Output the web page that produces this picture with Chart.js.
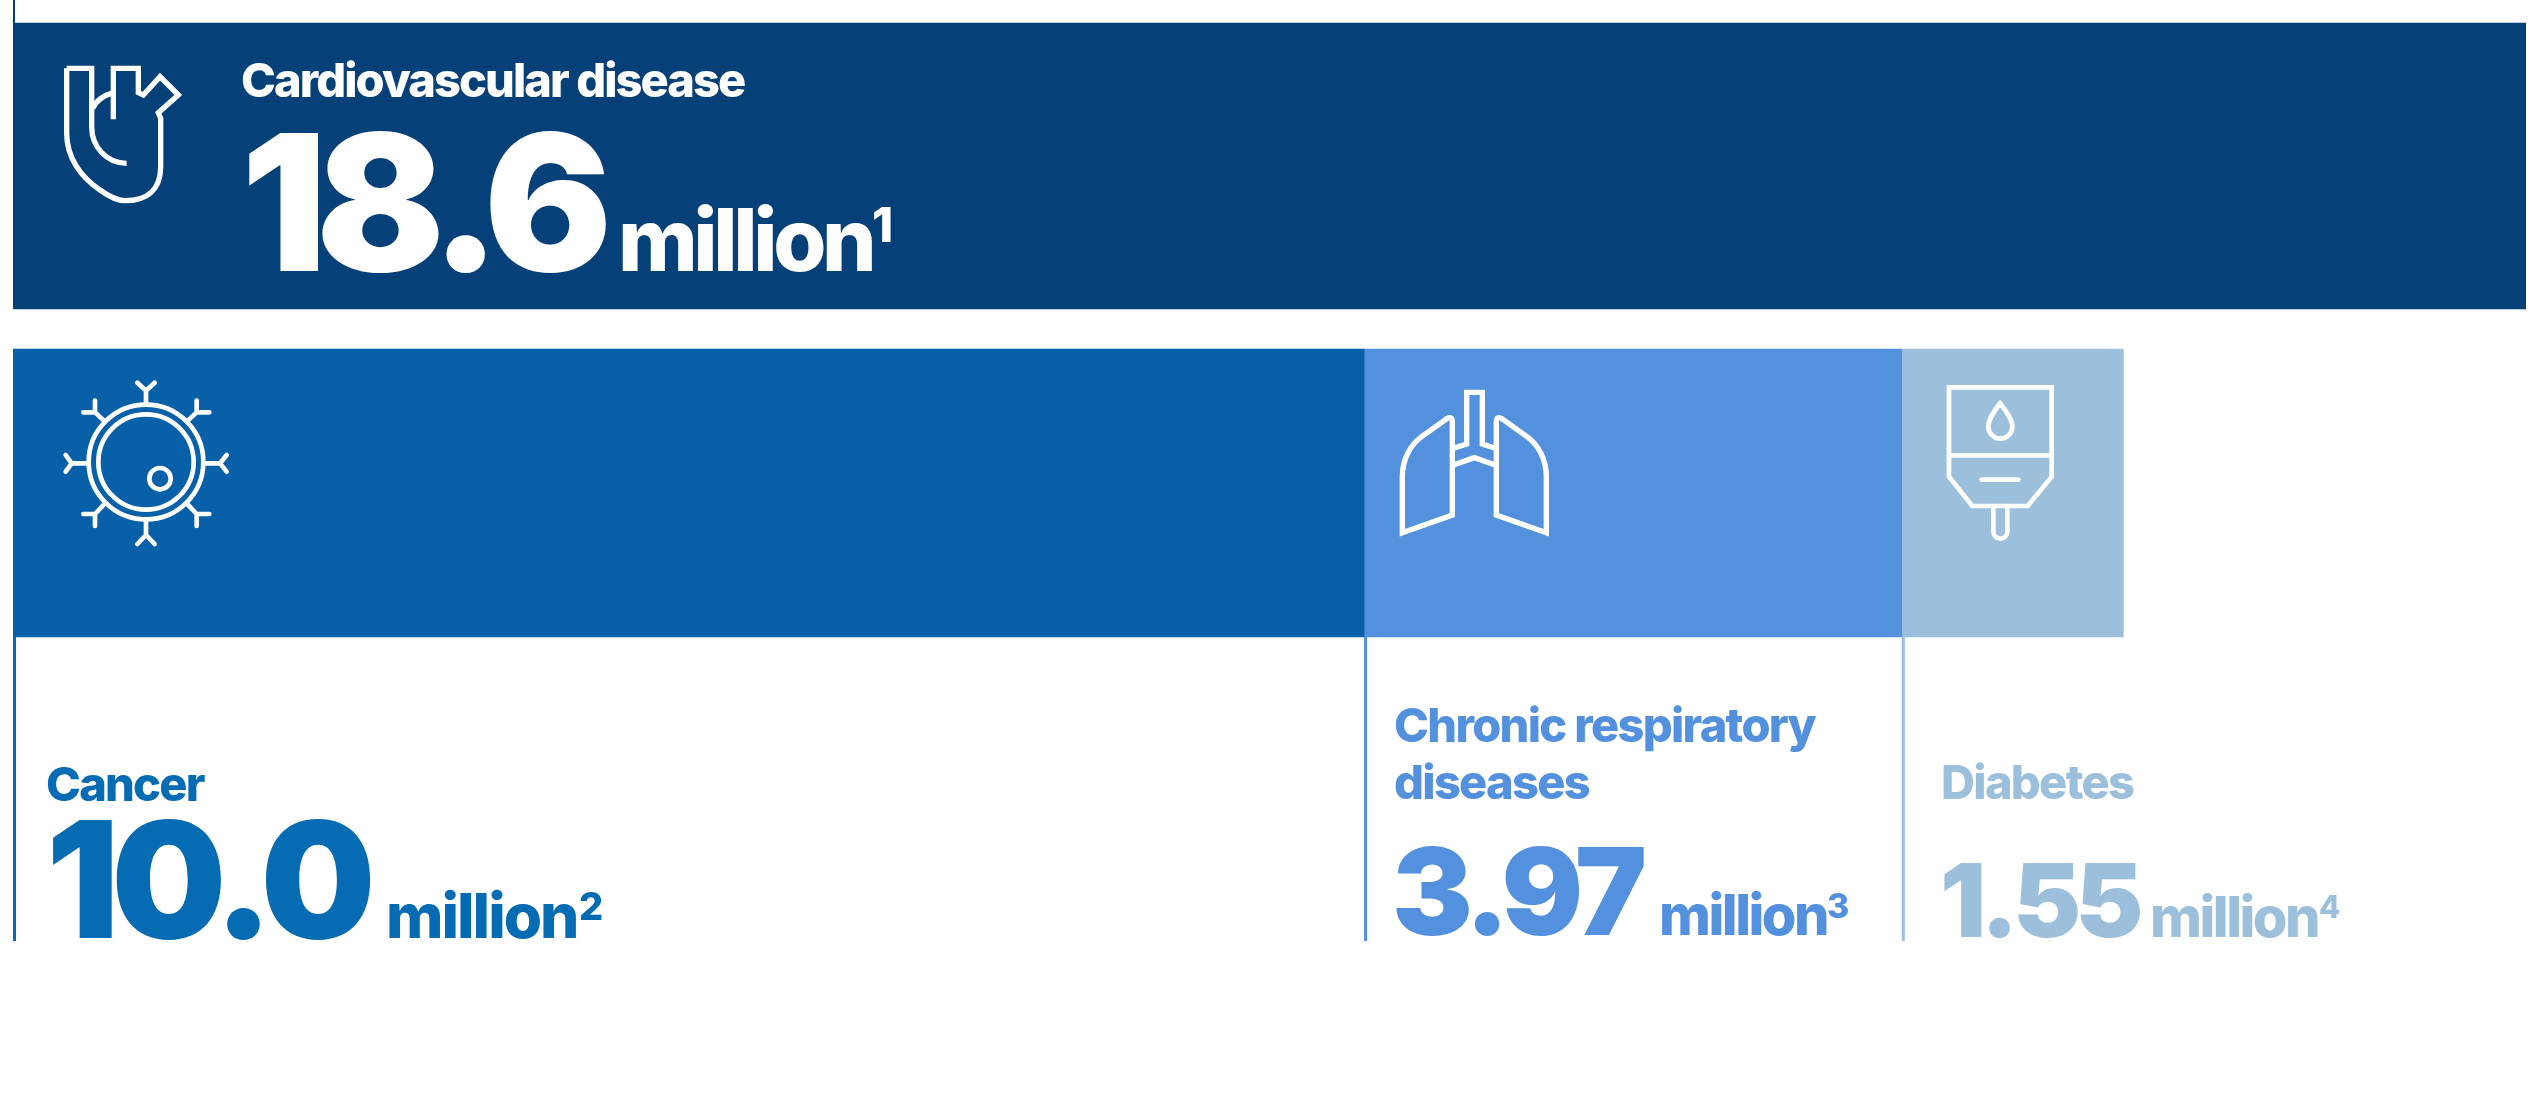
<!DOCTYPE html>
<html>
<head>
<meta charset="utf-8">
<title>Deaths by disease</title>
<script src="https://cdn.jsdelivr.net/npm/chart.js@4"></script>
<style>
  html, body { margin: 0; background: #fff; }
  canvas { display: block; }
</style>
</head>
<body>
<canvas id="chart" width="2536" height="1099"></canvas>
<script>
const rows = ['Cardiovascular disease', 'Other diseases'];

// bar lengths as drawn in the picture, million deaths
const cardiovascular = [18.6, null];
const cancer = [null, 10.0];
const respiratory = [null, 3.98];
const diabetes = [null, 1.64];

// printed figures, the last two bars are drawn a little longer than these say
const valueLabels = ['18.6', '10.0', '3.97', '1.55'];
const unitLabel = 'million';
const noteLabels = ['1', '2', '3', '4'];

const barColors = ['#064078', '#0860a8', '#5390dd', '#9cbfdc'];
const textColors = ['#ffffff', '#056bb3', '#5390dd', '#9cbfdc'];

const FONT = 'Inter';

function drawText(ctx, text, x, y, weight, size, spacing, color) {
  ctx.font = weight + ' ' + size + 'px ' + FONT;
  ctx.letterSpacing = spacing + 'px';
  ctx.fillStyle = color;
  ctx.fillText(text, x, y);
  ctx.letterSpacing = '0px';
}

// icon paths are in zoomed crop units, 3 units to a pixel
function drawIcon(ctx, x, y, width, paths, cap) {
  ctx.save();
  ctx.translate(x, y);
  ctx.scale(1 / 3, 1 / 3);
  ctx.strokeStyle = '#ffffff';
  ctx.lineWidth = width;
  ctx.lineCap = cap;
  ctx.lineJoin = 'miter';
  paths.forEach(function(d) {
    ctx.stroke(new Path2D(d));
  });
  ctx.restore();
}

const heartIcon = [
  'M50,55 L125,55 L125,230 C125,290 170,340 230,340',
  'M50,55 L50,250 C50,320 90,380 150,420 C175,438 200,452 225,452 C290,452 332,420 332,350 L332,205 L325,188 L385,135 L330,80 L280,135 L265,128 L265,55 L190,55 L190,208',
  'M190,128 C165,135 140,150 128,175'
];
const cellIcon = [
  'M460,276 A172,172 0 1 1 116,276 A172,172 0 1 1 460,276',
  'M431,276 A143,143 0 1 1 145,276 A143,143 0 1 1 431,276',
  'M362,326 A32,32 0 1 1 298,326 A32,32 0 1 1 362,326',
  'M288,100 L288,62 M262,38 L288,62 L314,38',
  'M288,452 L288,495 M262,522 L288,495 L314,522',
  'M465,280 L510,280 M530,255 L510,280 L530,305',
  'M112,280 L65,280 M47,255 L65,280 L47,305',
  'M410,155 L440,127 M440,92 L440,127 L478,127',
  'M165,155 L135,127 M135,92 L135,127 L100,127',
  'M165,400 L135,432 M135,468 L135,432 L100,432',
  'M410,400 L440,432 M440,468 L440,432 L478,432'
];
const lungsIcon = [
  'M187,120 L187,405 L37,458 L37,290 C37,240 60,195 95,170 L172,115 Q187,108 187,125 Z',
  'M319,120 L319,405 L469,458 L469,290 C469,240 446,195 411,170 L334,115 Q319,108 319,125 Z',
  'M190,205 L230,192 L230,37 L277,37 L277,192 L316,205',
  'M190,255 L253,233 L316,255'
];
const dripIcon = [
  'M57,37 L365,37 L365,305 L293,393 L127,393 L57,305 Z',
  'M57,241 L365,241',
  'M155,314 L265,314',
  'M190,393 L190,470 A21,21 0 0 0 232,470 L232,393',
  'M210,85 C195,105 175,130 175,155 A36,36 0 0 0 247,155 C247,130 225,105 210,85 Z'
];

const calloutPlugin = {
  id: 'callouts',
  afterDatasetsDraw(chart) {
    const ctx = chart.ctx;
    const x = chart.scales.x;
    const top = chart.getDatasetMeta(0).data[0];
    const lower = chart.getDatasetMeta(1).data[1];
    const rowEnd = lower.y + lower.height / 2;

    ctx.save();
    ctx.beginPath();
    ctx.rect(0, 0, chart.width, 941);
    ctx.clip();

    // leader lines under the left edge of each bar
    ctx.fillStyle = barColors[0];
    ctx.fillRect(x.getPixelForValue(0), 0, 2, top.y - top.height / 2);
    let start = 0;
    [cancer[1], respiratory[1], diabetes[1]].forEach(function(v, i) {
      ctx.fillStyle = i == 0 ? textColors[1] : barColors[i + 1];
      ctx.fillRect(x.getPixelForValue(start), rowEnd, 3, 941 - rowEnd);
      start += v;
    });

    drawIcon(ctx, 50, 50, 16, heartIcon, 'butt');
    drawIcon(ctx, 50, 370, 14, cellIcon, 'round');
    drawIcon(ctx, 1390, 380, 16, lungsIcon, 'butt');
    drawIcon(ctx, 1930, 375, 14, dripIcon, 'round');

    drawText(ctx, rows[0], 241, 97, 800, 47, -1.95, textColors[0]);
    drawText(ctx, valueLabels[0], 241, 271, 900, 190, -11, textColors[0]);
    drawText(ctx, unitLabel, 618, 271, 800, 86, -4.4, textColors[0]);
    drawText(ctx, noteLabels[0], 872, 242, 800, 48, 0, textColors[0]);

    drawText(ctx, 'Cancer', 46, 801, 800, 47, -1.8, textColors[1]);
    drawText(ctx, valueLabels[1], 46, 938, 900, 162, -8, textColors[1]);
    drawText(ctx, unitLabel, 386, 938, 800, 62, -2, textColors[1]);
    drawText(ctx, noteLabels[1], 579, 920, 800, 38, 0, textColors[1]);

    drawText(ctx, 'Chronic respiratory', 1394, 742, 800, 47, -1.7, textColors[2]);
    drawText(ctx, 'diseases', 1394, 799, 800, 47, -1.7, textColors[2]);
    drawText(ctx, valueLabels[2], 1392, 935, 900, 121, -6, textColors[2]);
    drawText(ctx, unitLabel, 1659, 935, 800, 56, -2.5, textColors[2]);
    drawText(ctx, noteLabels[2], 1827, 918, 800, 34, 0, textColors[2]);

    drawText(ctx, 'Diabetes', 1941, 799, 800, 47, -1.7, textColors[3]);
    drawText(ctx, valueLabels[3], 1940, 937, 900, 102, -5.5, textColors[3]);
    drawText(ctx, unitLabel, 2150, 937, 800, 56, -2.5, textColors[3]);
    drawText(ctx, noteLabels[3], 2319, 918, 800, 31, 0, textColors[3]);

    ctx.restore();
  }
};

new Chart(document.getElementById('chart'), {
  type: 'bar',
  data: {
    labels: rows,
    datasets: [
      { label: 'Cardiovascular disease', data: cardiovascular, backgroundColor: barColors[0], barThickness: 286 },
      { label: 'Cancer', data: cancer, backgroundColor: barColors[1], barThickness: 288 },
      { label: 'Chronic respiratory diseases', data: respiratory, backgroundColor: barColors[2], barThickness: 288 },
      { label: 'Diabetes', data: diabetes, backgroundColor: barColors[3], barThickness: 288 }
    ]
  },
  options: {
    indexAxis: 'y',
    responsive: false,
    animation: false,
    layout: { padding: { left: 13, right: 10, top: 2.5, bottom: 442.5 } },
    plugins: { legend: { display: false }, tooltip: { enabled: false } },
    scales: {
      x: { stacked: true, display: false, min: 0, max: 18.6 },
      y: { stacked: true, display: false }
    }
  },
  plugins: [calloutPlugin]
});
</script>
</body>
</html>
